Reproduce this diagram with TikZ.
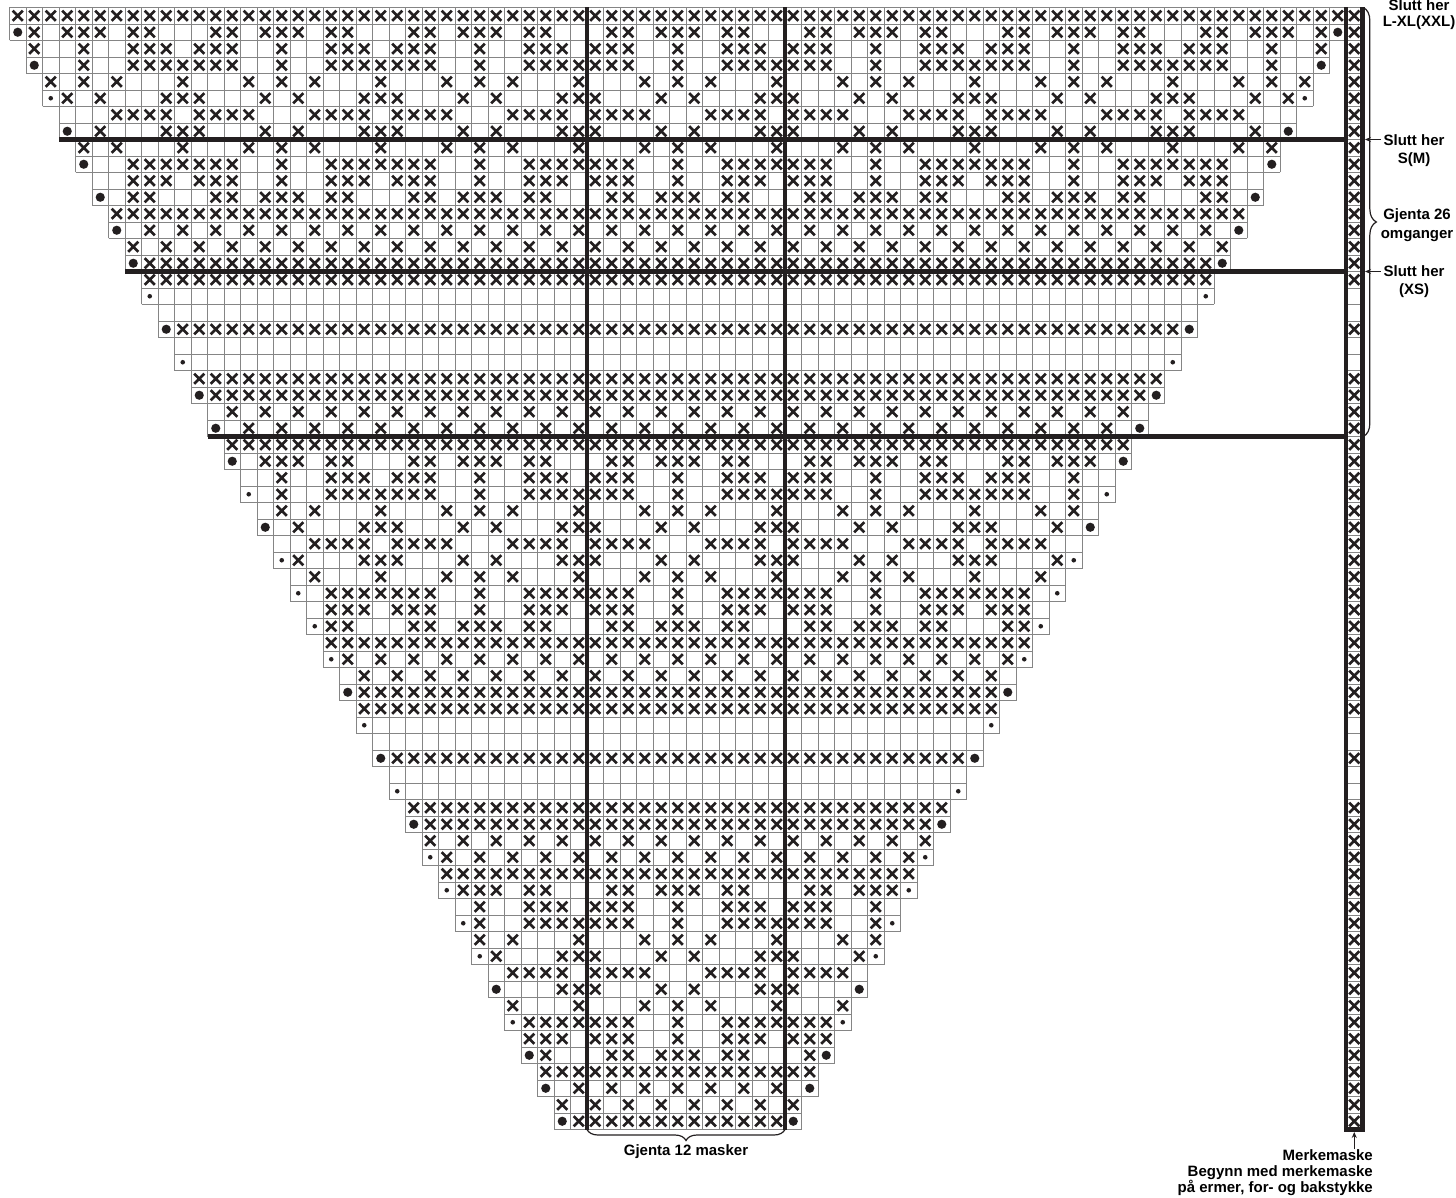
\documentclass[tikz,border=0pt]{standalone}
\usepackage{fontspec}
\setmainfont{Liberation Sans}
\usetikzlibrary{arrows.meta,decorations.pathreplacing}

\definecolor{ink}{HTML}{231F20}
\definecolor{gridgray}{HTML}{858585}

% X positions (0-11) inside the 12 stitch repeat, one list per round
\newcommand\setpat[2]{\expandafter\def\csname xs#1\endcsname{#2}}
\setpat{1}{0,1,2,3,4,5,6,7,8,9,10,11}
\setpat{2}{1,2,4,5,6,8,9}
\setpat{3}{0,1,2,5,8,9,10}
\setpat{4}{0,1,2,5,8,9,10,11}
\setpat{5}{3,5,7,11}
\setpat{6}{0,4,6,10,11}
\setpat{7}{0,1,2,3,7,8,9,10}
\setpat{8}{0,4,6,10,11}
\setpat{9}{3,5,7,11}
\setpat{10}{0,1,2,5,8,9,10,11}
\setpat{11}{0,1,2,5,8,9,10}
\setpat{12}{1,2,4,5,6,8,9}
\setpat{13}{0,1,2,3,4,5,6,7,8,9,10,11}
\setpat{14}{1,3,5,7,9,11}
\setpat{15}{0,2,4,6,8,10}
\setpat{16}{0,1,2,3,4,5,6,7,8,9,10,11}
\setpat{17}{0,1,2,3,4,5,6,7,8,9,10,11}
\setpat{18}{99}
\setpat{19}{99}
\setpat{20}{0,1,2,3,4,5,6,7,8,9,10,11}
\setpat{21}{99}
\setpat{22}{99}
\setpat{23}{0,1,2,3,4,5,6,7,8,9,10,11}
\setpat{24}{0,1,2,3,4,5,6,7,8,9,10,11}
\setpat{25}{0,2,4,6,8,10}
\setpat{26}{1,3,5,7,9,11}

\begin{document}
\begin{tikzpicture}[x=1pt,y=-1pt,
  cellgrid/.style={draw=gridgray,line width=0.9pt},
  cross/.style={draw=ink,line width=2.6pt},
  heavy/.style={draw=ink,line width=4.6pt},
  thinbrace/.style={draw=ink,line width=1.2pt,decorate,decoration={brace,amplitude=#1}},
  lbl/.style={font=\bfseries\fontsize{15}{18.5}\selectfont,align=center,inner sep=0pt},
  tip/.style={draw=ink,line width=1.1pt,-{Stealth[length=6pt,width=5pt]}}]

\useasboundingbox (0,0) rectangle (1456,1198);
\clip (0,0) rectangle (1456,1198);

\begin{scope}[shift={(587,7.5)},x=16.5pt,y=16.5pt]
% chart rows
\foreach \k in {1,...,68}{
  \pgfmathtruncatemacro\h{(\k-1)/2}
  \pgfmathtruncatemacro\lo{\h-35}
  \pgfmathtruncatemacro\hi{45-\h}
  \pgfmathtruncatemacro\ev{1-mod(\k,2)}
  \pgfmathtruncatemacro\first{\lo+\ev}
  \pgfmathtruncatemacro\last{\hi-\ev}
  \pgfmathtruncatemacro\p{\k>52 ? \k-52 : (\k>26 ? \k-26 : \k)}
  \draw[cellgrid,step=1] (\lo,-\k) grid (\hi+1,1-\k);
  \expandafter\let\expandafter\xl\csname xs\p\endcsname
  \foreach \m in \xl {
    \foreach \r in {-3,...,3} {
      \pgfmathtruncatemacro\cc{12*\r+\m}
      \ifnum\cc<\first\relax\else\ifnum\cc>\last\relax\else
        \draw[cross] (\cc+.19,-\k+.19) -- ++(.62,.62) (\cc+.19,-\k+.81) -- ++(.62,-.62);
      \fi\fi
    }
  }
}

% increase dots
\foreach \k in {2,4,8,10,12,14,16,20,24,26,28,32,42,46,50,60,64,66,68}
  \fill[ink] (\k/2-35.5,-\k+.5) circle (4.6pt) (46.5-\k/2,-\k+.5) circle (4.6pt);
\foreach \k in {6,18,22,30,34,36,38,40,44,48,52,54,56,58,62}
  \fill[ink] (\k/2-35.5,-\k+.5) circle (2.3pt) (46.5-\k/2,-\k+.5) circle (2.3pt);

% marker stitch
\draw[cellgrid,step=1] (46,-68) grid (47,0);
\foreach \k in {1,...,17,20,23,24,...,43,46,49,50,...,68}
  \draw[cross] (46.19,-\k+.19) -- ++(.62,.62) (46.19,-\k+.81) -- ++(.62,-.62);

% repeat box, size lines, marker column
\draw[heavy] (0,0) -- (0,-68);
\draw[heavy] (12,0) -- (12,-68);
\draw[heavy] (-32,-8) -- (46,-8);
\draw[heavy] (-28,-16) -- (46,-16);
\draw[heavy] (-23,-26) -- (46,-26);
\draw[heavy] (46,0) -- (46,-68) -- (47,-68) -- (47,0);

\coordinate (boxL) at (0,-68);
\coordinate (boxR) at (12,-68);
\coordinate (roundTop) at (47.05,0);
\coordinate (roundBot) at (47.05,-26);
\coordinate (smTip) at (47.15,-8);
\coordinate (smTail) at (48.1,-8);
\coordinate (xsTip) at (47.15,-16);
\coordinate (xsTail) at (48.1,-16);
\coordinate (mmTip) at (46.5,-68.15);
\coordinate (mmTail) at (46.5,-69.2);
\end{scope}

\draw[thinbrace=11pt] (boxR) -- (boxL);
\draw[thinbrace=13pt] (roundTop) -- (roundBot);
\draw[tip] (smTail) -- (smTip);
\draw[tip] (xsTail) -- (xsTip);
\draw[tip] (mmTail) -- (mmTip);

\node[lbl,font=\bfseries\fontsize{15}{16.5}\selectfont] (endLXL) at (1419,14.5) {Slutt her\\L-XL(XXL)};
\node[lbl] (endSM) at (1414,150.5) {Slutt her\\S(M)};
\node[lbl] (rep26) at (1417,225) {Gjenta 26\\omganger};
\node[lbl] (endXS) at (1414,281.5) {Slutt her\\(XS)};
\node[lbl,anchor=north] (rep12) at (686,1144) {Gjenta 12 masker};
\node[lbl,align=right,anchor=north east,font=\bfseries\fontsize{15}{16}\selectfont]
  (mmNote) at (1373,1149) {Merkemaske\\Begynn med merkemaske\\på ermer, for- og bakstykke};
\end{tikzpicture}
\end{document}
